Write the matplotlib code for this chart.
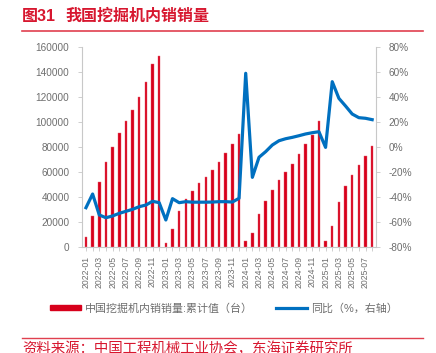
import numpy as np
import matplotlib
matplotlib.use('Agg')
import matplotlib.pyplot as plt
from matplotlib.patches import Patch
from matplotlib.lines import Line2D

plt.rcParams['font.family'] = ['Liberation Sans', 'Noto Sans CJK SC', 'DejaVu Sans']
plt.rcParams['axes.unicode_minus'] = False

# 月份
months = [f'{y}-{m:02d}' for y in range(2022, 2026) for m in range(1, 13)][:44]

# 内销累计值（台）
sales = [8000, 25200, 51800, 67800, 80200, 91200, 100700, 109800, 120100, 131800, 146200, 152600,
         3700, 14800, 28700, 38300, 44900, 51000, 56000, 61900, 68000, 75000, 82400, 90100,
         5300, 11200, 26600, 37200, 45700, 53400, 59800, 66400, 74200, 82400, 89600, 100700,
         5000, 16700, 36400, 49100, 57700, 65600, 72800, 80800]

# 同比（%）
yoy = [-48.4, -37.5, -54.2, -56.4, -55.0, -52.9, -51.3, -49.7, -47.6, -46.3, -43.3, -44.4,
       -58.2, -41.2, -44.4, -43.6, -44.0, -44.0, -44.0, -43.9, -43.6, -43.6, -43.9, -40.9,
       58.8, -24.2, -8.2, -3.7, 1.6, 5.0, 6.6, 7.7, 9.0, 10.4, 11.4, 12.2,
       -0.3, 52.1, 38.8, 32.7, 26.3, 23.4, 22.9, 21.8]

red = '#d7001b'
blue = '#0070c0'
grey = '#6e6e6e'
spine = '#c8c8c8'
title_red = '#d7172f'

fig = plt.figure(figsize=(4.36, 3.53), dpi=100)
ax = fig.add_axes([0.188, 0.2994, 0.674, 0.5683])
x = np.arange(len(months))
ax.bar(x, sales, width=0.38, color=red, edgecolor='#e8606f', linewidth=0.3)
ax.set_ylim(0, 160000)
ax.set_yticks(range(0, 160001, 20000))
ax.set_xlim(-0.6, len(months) - 0.45)
ax.set_xticks(x[::2])
ax.set_xticklabels(months[::2], rotation=90, fontsize=6.2, color=grey)
ax.set_xticks(x, minor=True)
ax.tick_params(axis='y', labelsize=7.2, labelcolor=grey, color=spine, length=3, width=0.6, pad=6)
ax.tick_params(axis='x', which='both', color=spine, length=3, width=0.6, pad=3)
for s in ['top', 'right']:
    ax.spines[s].set_visible(False)
ax.spines['left'].set_color(spine)
ax.spines['bottom'].set_color(spine)

ax2 = ax.twinx()
ax2.plot(x, yoy, color=blue, linewidth=2.3)
ax2.set_ylim(-80, 80)
ax2.set_yticks(range(-80, 81, 20))
ax2.set_yticklabels([f'{v}%' for v in range(-80, 81, 20)])
ax2.tick_params(axis='y', labelsize=7.2, labelcolor=grey, color=spine, length=3, width=0.6, pad=6)
for s in ['top', 'left', 'bottom']:
    ax2.spines[s].set_visible(False)
ax2.spines['right'].set_color(spine)

# 标题
fig.text(22 / 436, 1 - 16 / 353, '图31', fontsize=11.5, fontweight='bold',
         color=title_red, va='center')
fig.text(65 / 436, 1 - 16 / 353, '我国挖掘机内销销量', fontsize=11.5, fontweight='bold',
         color=title_red, va='center')
fig.add_artist(Line2D([22 / 436, 423 / 436], [1 - 30.7 / 353] * 2, color='#e0404f', linewidth=1.2))

# 图例
handles = [Patch(color=red), Line2D([0], [0], color=blue, linewidth=2.3)]
labels = ['中国挖掘机内销销量:累计值（台）', '同比（%，右轴）']
fig.legend(handles, labels, loc='center', bbox_to_anchor=(224 / 436, 1 - 308.3 / 353), ncol=2,
           frameon=False, fontsize=7.9, labelcolor=grey, handlelength=2.8, handleheight=0.4,
           columnspacing=2.1, handletextpad=0.4)

# 资料来源
fig.add_artist(Line2D([22 / 436, 423 / 436], [1 - 337.7 / 353] * 2, color='#e0404f', linewidth=1.0))
fig.text(22 / 436, 1 - 348.5 / 353, '资料来源：中国工程机械工业协会，东海证券研究所', fontsize=10.4,
         color=title_red, va='center')

fig.savefig('out.png', dpi=100)
